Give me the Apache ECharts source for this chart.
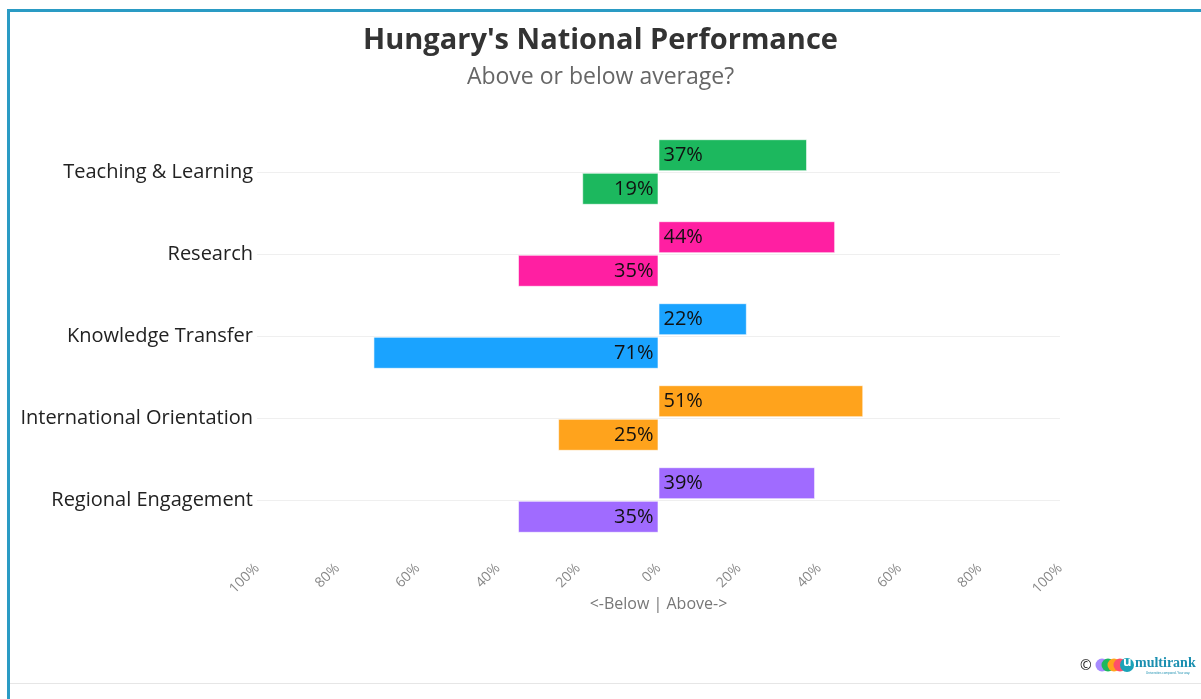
<!DOCTYPE html>
<html><head><meta charset="utf-8">
<script src="https://cdn.jsdelivr.net/npm/echarts@6/dist/echarts.min.js"></script>
<style>html,body{margin:0;padding:0;background:#fff}#c{width:1201px;height:699px}</style>
</head><body><div id="c"></div>
<script>
const categories = ['Teaching & Learning', 'Research', 'Knowledge Transfer', 'International Orientation', 'Regional Engagement'];
const aboveValues = [37, 44, 22, 51, 39];
const belowValues = [19, 35, 71, 25, 35];
const categoryColors = ['#1cb85e', '#ff1fa2', '#1aa3ff', '#ffa31c', '#a06bff'];
const tickValues = [-100, -80, -60, -40, -20, 0, 20, 40, 60, 80, 100];

const font = '"Source Sans Pro", "Open Sans", "Noto Sans", sans-serif';
const chart = echarts.init(document.getElementById('c'));
chart.setOption({
  animation: false,
  textStyle: { fontFamily: font },
  title: {
    text: "Hungary's National Performance",
    subtext: 'Above or below average?',
    left: 'center', top: 21, itemGap: 11,
    textStyle: { fontSize: 29, fontWeight: 'bold', color: '#333', fontFamily: font },
    subtextStyle: { fontSize: 23, color: '#666', fontFamily: font }
  },
  grid: { left: 257, right: 141, top: 131, bottom: 158 },
  xAxis: {
    type: 'value', min: tickValues[0], max: tickValues[tickValues.length - 1], interval: 20,
    name: '<-Below | Above->', nameLocation: 'middle', nameGap: 55, nameMoveOverlap: false,
    nameTextStyle: { fontSize: 16, color: '#777' },
    axisLine: { show: false }, axisTick: { show: false }, splitLine: { show: false },
    axisLabel: { rotate: 45, fontSize: 14, color: '#888', margin: 25,
      formatter: v => Math.abs(v) + '%' }
  },
  yAxis: {
    type: 'category', data: categories, inverse: true,
    axisLine: { show: false }, axisTick: { show: false },
    axisLabel: { fontSize: 20, color: '#222', margin: 4 }
  },
  series: [
    {
      name: 'grid', type: 'line', data: [], z: 0, silent: true,
      markLine: {
        silent: true, symbol: 'none', label: { show: false }, z: 0,
        lineStyle: { color: '#efefef', width: 1, type: 'solid' },
        data: categories.map(c => ({ yAxis: c }))
      }
    },
    {
      name: 'Above', type: 'bar', barWidth: 32, barGap: '5%', z: 3,
      data: aboveValues.map((v, i) => ({ value: v, itemStyle: { color: categoryColors[i] } })),
      itemStyle: { borderColor: 'rgba(255,255,255,0.6)', borderWidth: 1 },
      label: { show: true, position: 'insideLeft', distance: 5, fontSize: 20, color: '#111',
        formatter: p => Math.abs(p.value) + '%' }
    },
    {
      name: 'Below', type: 'bar', barWidth: 32, z: 3,
      data: belowValues.map((v, i) => ({ value: -v, itemStyle: { color: categoryColors[i] } })),
      itemStyle: { borderColor: 'rgba(255,255,255,0.6)', borderWidth: 1 },
      label: { show: true, position: 'insideRight', distance: 5, fontSize: 20, color: '#111',
        formatter: p => Math.abs(p.value) + '%' }
    }
  ],
  graphic: [
    { type: 'rect', shape: { x: 7, y: 9, width: 3, height: 690 }, style: { fill: '#2a9bc4' } },
    { type: 'rect', shape: { x: 7, y: 9, width: 1194, height: 3 }, style: { fill: '#2a9bc4' } },
    { type: 'rect', shape: { x: 10, y: 683, width: 1191, height: 1 }, style: { fill: '#e6e6e6' } },
    { type: 'text', left: 1080, top: 659, style: { text: '©', fontSize: 14, fill: '#222', fontFamily: font } },
    { type: 'circle', shape: { cx: 1102, cy: 665, r: 6.5 }, style: { fill: '#a78bff' } },
    { type: 'circle', shape: { cx: 1108, cy: 665, r: 6.5 }, style: { fill: '#1cb85e' } },
    { type: 'circle', shape: { cx: 1114, cy: 665, r: 6.5 }, style: { fill: '#ffa31c' } },
    { type: 'circle', shape: { cx: 1120, cy: 665, r: 6.5 }, style: { fill: '#ff4f6a' } },
    { type: 'circle', shape: { cx: 1127, cy: 665, r: 7 }, style: { fill: '#1aa3b8' } },
    { type: 'text', left: 1123, top: 656, style: { text: 'u', fontSize: 13, fontWeight: 'bold', fill: '#fff', fontFamily: font } },
    { type: 'text', left: 1135, top: 656, style: { text: 'multirank', fontSize: 14, fontWeight: 'bold', fill: '#1a8fb0', fontFamily: 'serif' } },
    { type: 'text', left: 1146, top: 672, style: { text: 'Universities compared. Your way.', fontSize: 3, fill: '#1a8fb0' } }
  ]
});
</script></body></html>
